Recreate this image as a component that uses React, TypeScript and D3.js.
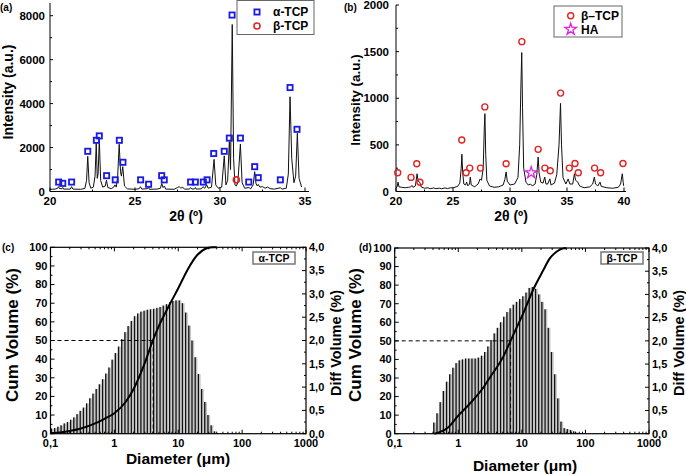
import React from 'react';
import * as d3 from 'd3';

const FONT = '"Liberation Sans", Arial, Helvetica, sans-serif';

// ---------- Panel (a): XRD alpha-TCP ----------
const xrdAProfile: [number, number][] = [
  [20.0, 100], [20.3, 110], [20.45, 150], [20.5, 220], [20.55, 140], [20.7, 120], [20.75, 180], [20.8, 110],
  [21.2, 110], [21.27, 220], [21.35, 110], [21.8, 100], [22.05, 140], [22.15, 500], [22.22, 1600], [22.3, 400],
  [22.4, 150], [22.55, 200], [22.65, 700], [22.72, 2200], [22.78, 600], [22.83, 800], [22.9, 2350], [22.98, 500],
  [23.1, 200], [23.25, 250], [23.32, 520], [23.4, 180], [23.6, 130], [23.75, 200], [23.82, 300], [23.9, 200],
  [23.98, 700], [24.07, 2150], [24.15, 900], [24.2, 700], [24.28, 1130], [24.38, 250], [24.55, 120], [25.0, 100],
  [25.25, 130], [25.32, 220], [25.4, 110], [25.75, 130], [25.8, 180], [25.85, 100], [26.3, 110], [26.5, 150],
  [26.57, 370], [26.65, 180], [26.73, 250], [26.8, 110], [27.3, 100], [27.5, 180], [27.6, 220], [27.7, 150],
  [27.8, 200], [27.9, 110], [28.2, 110], [28.27, 180], [28.35, 110], [28.5, 120], [28.55, 180], [28.6, 110],
  [28.9, 120], [29.0, 220], [29.1, 150], [29.22, 300], [29.3, 150], [29.5, 200], [29.65, 1460], [29.75, 300],
  [29.9, 150], [30.1, 200], [30.25, 1620], [30.35, 300], [30.45, 500], [30.55, 2270], [30.62, 1000], [30.72, 7600],
  [30.8, 1500], [30.88, 300], [30.96, 250], [31.05, 400], [31.2, 2160], [31.3, 400], [31.45, 150], [31.7, 180],
  [31.8, 120], [31.95, 300], [32.04, 900], [32.12, 350], [32.2, 250], [32.25, 320], [32.35, 200], [32.5, 220],
  [32.65, 150], [32.8, 200], [32.95, 130], [33.2, 110], [33.55, 170], [33.65, 110], [33.9, 150], [34.02, 800],
  [34.12, 4310], [34.22, 1500], [34.35, 400], [34.45, 700], [34.55, 2650], [34.65, 600], [34.8, 200],
];
const xrdAAlphaMarks: [number, number][] = [
  [20.51, 430], [20.75, 370], [21.27, 430], [22.22, 1830], [22.73, 2330], [22.9, 2530], [23.33, 720], [23.84, 530],
  [24.08, 2330], [24.29, 1330], [25.33, 530], [25.8, 330], [26.57, 720], [26.72, 530], [28.27, 430], [28.55, 430],
  [29.02, 430], [29.24, 530], [29.63, 1730], [30.25, 1830], [30.55, 2430], [30.71, 8030], [31.2, 2430],
  [31.69, 430], [32.04, 1130], [32.25, 630], [33.55, 530], [34.12, 4730], [34.53, 2830],
];
const xrdABetaMarks: [number, number][] = [[30.96, 530]];
const xrdATicksX = [20, 25, 30, 35];
const xrdAMinorX = [22.5, 27.5, 32.5];
const xrdATicksY = [0, 2000, 4000, 6000, 8000];
const xrdAMinorY = [1000, 3000, 5000, 7000];

// ---------- Panel (b): XRD beta-TCP ----------
const xrdBProfile: [number, number][] = [
  [20.0, 40], [20.1, 50], [20.18, 100], [20.26, 50], [20.5, 45], [20.8, 40], [21.1, 45], [21.3, 50], [21.4, 65],
  [21.5, 45], [21.7, 60], [21.85, 190], [21.95, 110], [22.08, 100], [22.2, 50], [22.5, 35], [22.8, 40], [23.0, 30],
  [23.3, 38], [23.5, 30], [23.8, 36], [24.0, 30], [24.3, 38], [24.5, 32], [24.8, 40], [25.0, 40], [25.4, 55],
  [25.6, 90], [25.72, 250], [25.78, 400], [25.85, 200], [25.95, 80], [26.1, 70], [26.2, 100], [26.3, 60],
  [26.45, 80], [26.52, 155], [26.6, 70], [26.9, 50], [27.2, 80], [27.38, 135], [27.5, 120], [27.65, 250],
  [27.75, 700], [27.8, 835], [27.87, 400], [27.97, 120], [28.2, 60], [28.6, 45], [29.0, 50], [29.4, 70],
  [29.55, 130], [29.66, 210], [29.76, 110], [30.0, 70], [30.4, 80], [30.7, 150], [30.85, 500], [30.95, 1100],
  [31.03, 1490], [31.1, 900], [31.2, 250], [31.4, 100], [31.6, 70], [31.8, 80], [31.95, 60], [32.2, 80],
  [32.35, 180], [32.47, 370], [32.55, 200], [32.7, 100], [32.9, 90], [33.05, 155], [33.15, 80], [33.3, 80],
  [33.5, 135], [33.6, 70], [33.9, 90], [34.1, 180], [34.3, 500], [34.43, 945], [34.52, 500], [34.65, 150],
  [34.9, 80], [35.1, 135], [35.25, 80], [35.5, 80], [35.65, 190], [35.75, 120], [35.95, 100], [36.1, 60],
  [36.5, 40], [37.0, 50], [37.25, 80], [37.4, 155], [37.5, 80], [37.7, 60], [37.9, 100], [38.0, 55], [38.5, 40],
  [39.0, 35], [39.5, 45], [39.7, 80], [39.85, 190], [39.93, 100], [39.97, 60],
];
const xrdBBetaMarks: [number, number][] = [
  [20.15, 201], [21.32, 151], [21.82, 298], [22.1, 100], [25.77, 552], [26.15, 201], [26.47, 251], [27.41, 251],
  [27.79, 907], [29.66, 298], [31.04, 1607], [32.47, 452], [33.06, 251], [33.53, 222], [34.44, 1055], [35.2, 251],
  [35.7, 301], [35.99, 201], [37.42, 251], [37.95, 201], [39.91, 301],
];
const xrdBHAMarks: [number, number][] = [[31.86, 201]];
const xrdBTicksX = [20, 25, 30, 35, 40];
const xrdBMinorX = [22.5, 27.5, 32.5, 37.5];
const xrdBTicksY = [0, 500, 1000, 1500, 2000];
const xrdBMinorY = [250, 750, 1250, 1750];

// ---------- Panels (c),(d): particle size ----------
const sizeBins = [
  0.1, 0.1122, 0.1259, 0.1413, 0.1585, 0.1778, 0.1995, 0.2239, 0.2512, 0.2818, 0.3162, 0.3548, 0.3981, 0.4467,
  0.5012, 0.5623, 0.631, 0.7079, 0.7943, 0.8913, 1.0, 1.122, 1.259, 1.413, 1.585, 1.778, 1.995, 2.239, 2.512,
  2.818, 3.162, 3.548, 3.981, 4.467, 5.012, 5.623, 6.31, 7.079, 7.943, 8.913, 10.0, 11.22, 12.59, 14.13, 15.85,
  17.78, 19.95, 22.39, 25.12, 28.18, 31.62, 35.48, 39.81, 44.67, 50.12, 56.23, 63.1, 70.79, 79.43,
];
const diffAlpha = [
  0.11, 0.12, 0.15, 0.18, 0.22, 0.25, 0.30, 0.35, 0.42, 0.49, 0.56, 0.65, 0.76, 0.86, 0.96, 1.06, 1.17, 1.29,
  1.42, 1.59, 1.73, 1.87, 2.03, 2.18, 2.31, 2.42, 2.52, 2.58, 2.62, 2.64, 2.66, 2.67, 2.68, 2.70, 2.72, 2.75,
  2.78, 2.82, 2.85, 2.86, 2.86, 2.80, 2.60, 2.32, 2.00, 1.64, 1.28, 0.96, 0.68, 0.40, 0.18, 0.05, 0.01, 0, 0, 0,
  0, 0, 0,
];
const diffBeta = [
  0, 0, 0, 0, 0, 0, 0, 0, 0, 0, 0, 0, 0.24, 0.44, 0.68, 0.92, 1.12, 1.28, 1.42, 1.52, 1.58, 1.60, 1.62, 1.62,
  1.62, 1.62, 1.64, 1.68, 1.76, 1.88, 2.02, 2.16, 2.28, 2.40, 2.52, 2.62, 2.70, 2.78, 2.84, 2.90, 2.96, 3.04,
  3.14, 3.16, 3.12, 3.00, 2.84, 2.68, 2.28, 1.76, 1.28, 0.76, 0.26, 0.12, 0.10, 0.08, 0.05, 0.02, 0.01,
];
const cumAlpha: [number, number][] = [
  [0.1, 0.3], [0.15, 0.8], [0.2, 1.5], [0.3, 2.8], [0.5, 5.5], [0.7, 8], [1, 11], [1.5, 17], [2, 24], [3, 38],
  [4, 50], [5, 58], [7, 68], [10, 78], [14, 88], [20, 96], [28, 99.5], [35, 100], [40, 100],
];
const cumBeta: [number, number][] = [
  [0.42, 0], [0.5, 0.7], [0.7, 3.5], [1, 9.7], [1.7, 18], [2.5, 25], [3.2, 30.7], [4, 35.5], [5.1, 41.5],
  [6.65, 50], [8, 56], [10.5, 64.8], [15, 77.4], [21.7, 88], [27, 94], [35, 98], [45, 99.8], [50, 100],
];
const d50Alpha = 4.05;
const d50Beta = 6.65;
const logTicks = [0.1, 1, 10, 100, 1000];
const logTickLabels = ['0,1', '1', '10', '100', '1000'];
const cumTicks = [0, 10, 20, 30, 40, 50, 60, 70, 80, 90, 100];
const diffTicks = [0, 0.5, 1, 1.5, 2, 2.5, 3, 3.5, 4];

const fmtComma = (v: number) => v.toFixed(1).replace('.', ',');

function XrdPanel(props: {
  x0: number; x1: number; axisRight: number; yBottom: number; yTop: number; axisTop: number;
  xDomain: [number, number]; yDomain: [number, number];
  profile: [number, number][]; ticksX: number[]; minorX: number[]; ticksY: number[]; minorY: number[];
  tickLabelRight: number; ylabX: number; ylabY: number; ylabSize: number; xlabX: number;
  render: (x: d3.ScaleLinear<number, number>, y: d3.ScaleLinear<number, number>) => any;
}) {
  const x = d3.scaleLinear().domain(props.xDomain).range([props.x0, props.x1]);
  const y = d3.scaleLinear().domain(props.yDomain).range([props.yBottom, props.yTop]);
  const line = d3.line<[number, number]>().x(d => x(d[0])).y(d => y(d[1]));
  return (
    <g>
      <path d={line(props.profile) || ''} fill="none" stroke="#111" strokeWidth={1} strokeLinejoin="round" />
      <line x1={props.x0} x2={props.x0} y1={props.yBottom} y2={props.axisTop} stroke="#000" strokeWidth={1} />
      <line x1={props.x0} x2={props.axisRight} y1={props.yBottom} y2={props.yBottom} stroke="#000" strokeWidth={1} />
      {props.ticksY.map(t => (
        <g key={'ty' + t}>
          <line x1={props.x0} x2={props.x0 + 3} y1={y(t)} y2={y(t)} stroke="#000" />
          <text x={props.tickLabelRight} y={y(t)} dy="0.35em" textAnchor="end" fontSize={11.5} fontWeight="bold" fontFamily={FONT}>{t}</text>
        </g>
      ))}
      {props.minorY.map(t => (
        <line key={'my' + t} x1={props.x0} x2={props.x0 + 2} y1={y(t)} y2={y(t)} stroke="#000" />
      ))}
      {props.ticksX.map(t => (
        <g key={'tx' + t}>
          <line x1={x(t)} x2={x(t)} y1={props.yBottom} y2={props.yBottom - 4} stroke="#000" />
          <text x={x(t)} y={205} textAnchor="middle" fontSize={11.5} fontWeight="bold" fontFamily={FONT}>{t}</text>
        </g>
      ))}
      {props.minorX.map(t => (
        <line key={'mx' + t} x1={x(t)} x2={x(t)} y1={props.yBottom} y2={props.yBottom - 2} stroke="#000" />
      ))}
      <text transform={`translate(${props.ylabX},${props.ylabY}) rotate(-90)`} textAnchor="middle" fontSize={props.ylabSize} fontWeight="bold" fontFamily={FONT}>Intensity (a.u.)</text>
      <text x={props.xlabX} y={220.5} textAnchor="middle" fontSize={14} fontWeight="bold" fontFamily={FONT}>2θ (º)</text>
      {props.render(x, y)}
    </g>
  );
}

function PsdPanel(props: {
  x0: number; x1: number; yBottom: number; yTop: number; diff: number[]; cum: [number, number][]; d50: number;
  label: string; legendX: number; cumLabX: number; diffLabX: number; diamLabX: number; diamLabY: number;
}) {
  const { x0, x1, yBottom, yTop } = props;
  const x = d3.scaleLog().domain([0.1, 1000]).range([x0, x1]);
  const y = d3.scaleLinear().domain([0, 100]).range([yBottom, yTop]);
  const yr = d3.scaleLinear().domain([0, 4]).range([yBottom, yTop]);
  const step = (x(sizeBins[1]) - x(sizeBins[0]));
  const line = d3.line<[number, number]>().x(d => x(d[0])).y(d => y(d[1])).curve(d3.curveMonotoneX);
  const minorLog: number[] = [];
  [0.1, 1, 10, 100].forEach(dec => { for (let k = 2; k <= 9; k++) minorLog.push(dec * k); });
  const minorCum = [5, 15, 25, 35, 45, 55, 65, 75, 85, 95];
  const minorDiff = [0.25, 0.75, 1.25, 1.75, 2.25, 2.75, 3.25, 3.75];
  return (
    <g>
      {props.diff.map((v, i) => v > 0 ? (
        <g key={'b' + i}>
          <rect x={x(sizeBins[i]) + 0.3} y={yr(v)} width={step - 0.3} height={yBottom - yr(v)} fill="#c4c4c4" />
          <rect x={x(sizeBins[i]) + 0.3} y={yr(v)} width={1.3} height={yBottom - yr(v)} fill="#111" />
        </g>
      ) : null)}
      <line x1={x0} x2={x(props.d50)} y1={y(50)} y2={y(50)} stroke="#000" strokeWidth={1} strokeDasharray="4,3" />
      <line x1={x(props.d50)} x2={x(props.d50)} y1={y(50)} y2={yBottom} stroke="#000" strokeWidth={1} strokeDasharray="4,3" />
      <path d={line(props.cum) || ''} fill="none" stroke="#000" strokeWidth={2} />
      <rect x={x0} y={yTop} width={x1 - x0} height={yBottom - yTop} fill="none" stroke="#000" strokeWidth={1.2} />
      {logTicks.map((t, i) => (
        <g key={'lt' + t}>
          <line x1={x(t)} x2={x(t)} y1={yBottom} y2={yBottom - 4} stroke="#000" />
          <line x1={x(t)} x2={x(t)} y1={yTop} y2={yTop + 4} stroke="#000" />
          <text x={x(t)} y={447} textAnchor="middle" fontSize={11} fontWeight="bold" fontFamily={FONT}>{logTickLabels[i]}</text>
        </g>
      ))}
      {minorLog.map(t => (
        <g key={'ml' + t}>
          <line x1={x(t)} x2={x(t)} y1={yBottom} y2={yBottom - 2} stroke="#000" />
          <line x1={x(t)} x2={x(t)} y1={yTop} y2={yTop + 2} stroke="#000" />
        </g>
      ))}
      {cumTicks.map(t => (
        <g key={'ct' + t}>
          <line x1={x0} x2={x0 + 4} y1={y(t)} y2={y(t)} stroke="#000" />
          <text x={x0 - 3} y={y(t)} dy="0.35em" textAnchor="end" fontSize={11} fontWeight="bold" fontFamily={FONT}>{t}</text>
        </g>
      ))}
      {minorCum.map(t => (
        <line key={'mc' + t} x1={x0} x2={x0 + 2} y1={y(t)} y2={y(t)} stroke="#000" />
      ))}
      {diffTicks.map(t => (
        <g key={'dt' + t}>
          <line x1={x1} x2={x1 - 4} y1={yr(t)} y2={yr(t)} stroke="#000" />
          <text x={x1 + 3} y={yr(t)} dy="0.35em" textAnchor="start" fontSize={11} fontWeight="bold" fontFamily={FONT}>{fmtComma(t)}</text>
        </g>
      ))}
      {minorDiff.map(t => (
        <line key={'md' + t} x1={x1} x2={x1 - 2} y1={yr(t)} y2={yr(t)} stroke="#000" />
      ))}
      <rect x={props.legendX} y={252} width={42} height={12} fill="#fff" stroke="#777" strokeWidth={1.5} />
      <text x={props.legendX + 21} y={258} dy="0.35em" textAnchor="middle" fontSize={10.5} fontWeight="bold" fontFamily={FONT}>{props.label}</text>
      <text transform={`translate(${props.cumLabX},335) rotate(-90)`} textAnchor="middle" fontSize={17} fontWeight="bold" fontFamily={FONT}>Cum Volume (%)</text>
      <text transform={`translate(${props.diffLabX},343) rotate(-90)`} textAnchor="middle" fontSize={14.5} fontWeight="bold" fontFamily={FONT}>Diff Volume (%)</text>
      <text x={props.diamLabX} y={props.diamLabY} textAnchor="middle" fontSize={15.5} fontWeight="bold" fontFamily={FONT}>Diameter (μm)</text>
    </g>
  );
}

export default function App() {
  const star = d3.symbol().type(d3.symbolStar).size(42)() || '';
  return (
    <svg width={686} height={475} style={{ position: 'absolute', left: 0, top: 0, background: '#fff' }} fontFamily={FONT}>
      <rect x={0} y={0} width={686} height={475} fill="#fff" />
      <XrdPanel x0={50} x1={305} axisRight={309} yBottom={191.5} yTop={15.7} axisTop={3}
        xDomain={[20, 35]} yDomain={[0, 8000]} profile={xrdAProfile}
        ticksX={xrdATicksX} minorX={xrdAMinorX} ticksY={xrdATicksY} minorY={xrdAMinorY}
        tickLabelRight={45} ylabX={12.5} ylabY={92} ylabSize={14} xlabX={186}
        render={(x, y) => (
          <g>
            {xrdAAlphaMarks.map((d, i) => (
              <rect key={'am' + i} x={x(d[0]) - 2.6} y={y(d[1]) - 2.6} width={5.2} height={5.2} fill="none" stroke="#1a1ae6" strokeWidth={1.8} />
            ))}
            {xrdABetaMarks.map((d, i) => (
              <circle key={'bm' + i} cx={x(d[0])} cy={y(d[1])} r={3} fill="none" stroke="#e02424" strokeWidth={1.6} />
            ))}
            <rect x={237} y={0.5} width={77} height={34} fill="#fff" stroke="#666" strokeWidth={1} />
            <rect x={254.4} y={9.4} width={5.2} height={5.2} fill="none" stroke="#1a1ae6" strokeWidth={1.8} />
            <circle cx={257} cy={26} r={3} fill="none" stroke="#e02424" strokeWidth={1.6} />
            <text x={273} y={12} dy="0.35em" fontSize={12} fontWeight="bold" fontFamily={FONT}>α-TCP</text>
            <text x={273} y={26} dy="0.35em" fontSize={12} fontWeight="bold" fontFamily={FONT}>β-TCP</text>
          </g>
        )}
      />
      <XrdPanel x0={396} x1={624} axisRight={626} yBottom={191.5} yTop={5} axisTop={5}
        xDomain={[20, 40]} yDomain={[0, 2000]} profile={xrdBProfile}
        ticksX={xrdBTicksX} minorX={xrdBMinorX} ticksY={xrdBTicksY} minorY={xrdBMinorY}
        tickLabelRight={389} ylabX={360} ylabY={100} ylabSize={13.5} xlabX={511}
        render={(x, y) => (
          <g>
            {xrdBBetaMarks.map((d, i) => (
              <circle key={'bb' + i} cx={x(d[0])} cy={y(d[1])} r={3} fill="none" stroke="#e02424" strokeWidth={1.4} />
            ))}
            {xrdBHAMarks.map((d, i) => (
              <path key={'ha' + i} d={star} transform={`translate(${x(d[0])},${y(d[1])})`} fill="none" stroke="#e020e0" strokeWidth={1.3} />
            ))}
            <rect x={554} y={6} width={68} height={31} fill="#fff" stroke="#666" strokeWidth={1} />
            <circle cx={570.7} cy={15.7} r={3} fill="none" stroke="#e02424" strokeWidth={1.4} />
            <path d={star} transform="translate(570.7,29.3)" fill="none" stroke="#e020e0" strokeWidth={1.3} />
            <text x={581} y={15.7} dy="0.35em" fontSize={12} fontWeight="bold" fontFamily={FONT}>β–TCP</text>
            <text x={581} y={29.3} dy="0.35em" fontSize={12} fontWeight="bold" fontFamily={FONT}>HA</text>
          </g>
        )}
      />
      <text x={0} y={11} fontSize={10} fontWeight="bold" fontFamily={FONT}>(a)</text>
      <text x={344} y={11} fontSize={10} fontWeight="bold" fontFamily={FONT}>(b)</text>
      <text x={2} y={251} fontSize={10} fontWeight="bold" fontFamily={FONT}>(c)</text>
      <text x={359} y={251} fontSize={10} fontWeight="bold" fontFamily={FONT}>(d)</text>
      <PsdPanel x0={50.5} x1={306} yBottom={433.7} yTop={247.3} diff={diffAlpha} cum={cumAlpha} d50={d50Alpha}
        label="α-TCP" legendX={253} cumLabX={18} diffLabX={341} diamLabX={178} diamLabY={464} />
      <PsdPanel x0={394.7} x1={649} yBottom={433.7} yTop={248} diff={diffBeta} cum={cumBeta} d50={d50Beta}
        label="β-TCP" legendX={601} cumLabX={361} diffLabX={684} diamLabX={525} diamLabY={471} />
    </svg>
  );
}
